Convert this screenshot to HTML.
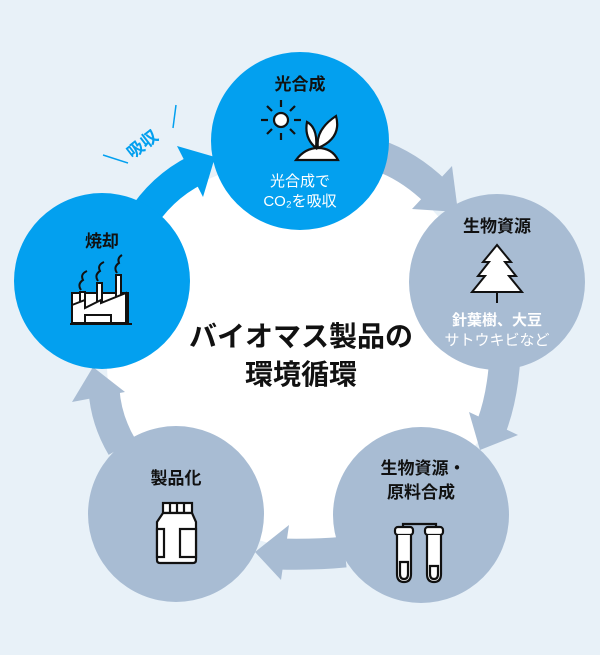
<!DOCTYPE html>
<html><head><meta charset="utf-8"><style>
html,body{margin:0;padding:0;background:#e8f1f8;}
svg{display:block;font-family:"Liberation Sans","Noto Sans CJK JP",sans-serif;}
</style></head><body>
<svg width="600" height="655" viewBox="0 0 600 655" xmlns="http://www.w3.org/2000/svg">
<rect width="600" height="655" fill="#e8f1f8"/>
<polygon points="300,141 410,185 497,282 495,420 421,515 300,553 176,514 110,420 102,281 170,195" fill="#fff"/>
<!-- arrows -->
<g fill="none" stroke="#a8bcd3" stroke-width="31">
<path d="M368,152 Q405,162 436,192"/>
<path d="M505,355 Q503,395 492,425"/>
<path d="M345,552 Q315,555 278,554"/>
<path d="M122,447 Q106,420 104,390"/>
</g>
<g fill="#a8bcd3">
<polygon points="452,166 412,209 458,212"/>
<polygon points="469,412 518,435 480,450"/>
<polygon points="289,525 281,580 255,552"/>
<polygon points="72,402 125,392 93,367"/>
</g>
<path d="M138,225 Q160,188 196,170" fill="none" stroke="#03a0ef" stroke-width="31"/>
<polygon points="177,146 203,197 215,157" fill="#03a0ef"/>
<!-- circles -->
<circle cx="300" cy="141" r="89" fill="#03a0ef"/>
<circle cx="102" cy="281" r="88" fill="#03a0ef"/>
<circle cx="497" cy="282" r="88" fill="#a8bcd3"/>
<circle cx="421" cy="515" r="88" fill="#a8bcd3"/>
<circle cx="176" cy="514" r="88" fill="#a8bcd3"/>
<!-- 吸収 -->
<g fill="#03a0ef" stroke="#03a0ef">
<line x1="103" y1="155" x2="128" y2="163" stroke-width="1.5"/>
<line x1="176" y1="105" x2="173" y2="128" stroke-width="1.5"/>
<text x="143" y="150" font-size="17" font-weight="bold" stroke="none" text-anchor="middle" transform="rotate(-38 143 145)">吸収</text>
</g>
<!-- labels -->
<g font-weight="bold" text-anchor="middle" fill="#111">
<text x="300" y="90" font-size="17">光合成</text>
<text x="102" y="247" font-size="17">焼却</text>
<text x="497" y="232" font-size="17">生物資源</text>
<text x="176" y="484" font-size="17">製品化</text>
<text x="423" y="474" font-size="17">生物資源・</text>
<text x="421" y="498" font-size="17">原料合成</text>
<text x="301" y="346" font-size="28">バイオマス製品の</text>
<text x="301" y="384" font-size="28">環境循環</text>
</g>
<g text-anchor="middle" fill="#fff" font-size="15">
<text x="300" y="186">光合成で</text>
<text x="300" y="206">CO₂を吸収</text>
<text x="497" y="325" font-weight="bold">針葉樹、大豆</text>
<text x="497" y="345">サトウキビなど</text>
</g>
<!-- sun -->
<g stroke="#111" stroke-width="2.2" fill="#fff">
<circle cx="281" cy="120" r="7"/>
<g fill="none">
<line x1="281" y1="100" x2="281" y2="107"/><line x1="281" y1="133" x2="281" y2="140"/>
<line x1="261" y1="120" x2="268" y2="120"/><line x1="294" y1="120" x2="301" y2="120"/>
<line x1="267" y1="106" x2="272" y2="111"/><line x1="290" y1="129" x2="295" y2="134"/>
<line x1="267" y1="134" x2="272" y2="129"/><line x1="290" y1="111" x2="295" y2="106"/>
</g>
<!-- plant -->
<path d="M296,160 Q305,148 318,148 Q332,148 338,160 Z"/>
<path d="M316,148 Q304,138 307,122 Q318,128 316,148 Z"/>
<path d="M318,148 Q315,130 336,116 Q342,138 318,148 Z"/>
</g>
<!-- factory -->
<g stroke="#111" stroke-width="2" fill="#fff">
<rect x="72" y="293" width="56" height="30"/>
<rect x="80" y="292" width="5" height="20"/>
<rect x="97" y="283" width="5" height="25"/>
<rect x="116" y="275" width="5" height="25"/>
<path d="M72,323 V305 L85,300 V308 L101,300 V303 L126,293 V323 Z"/>
<rect x="85" y="315" width="26" height="8"/>
<line x1="70" y1="324" x2="132" y2="324"/>
<path d="M81,290 q-4,-6 2,-10 q-3,-6 4,-9 M98,281 q-4,-6 2,-10 q-3,-6 4,-9 M117,273 q-4,-6 2,-10 q-2,-5 3,-8" fill="none"/>
</g>
<!-- tree -->
<g stroke="#111" stroke-width="2" fill="#fff">
<path d="M497,245 L483,262 L489,262 L478,276 L485,276 L472,292 L522,292 L509,276 L516,276 L505,262 L511,262 Z"/>
<line x1="497" y1="292" x2="497" y2="303"/>
</g>
<!-- bottle -->
<g stroke="#111" stroke-width="2.2" fill="#fff">
<rect x="163" y="503" width="29" height="10"/>
<path d="M163,513 L157,522 V560 Q157,563 160,563 H193 Q196,563 196,560 V522 L192,513 Z"/>
<rect x="157" y="529" width="7" height="28"/>
<rect x="180" y="529" width="16" height="28"/>
<line x1="170" y1="503" x2="170" y2="513"/><line x1="177" y1="503" x2="177" y2="513"/><line x1="184" y1="503" x2="184" y2="513"/>
</g>
<!-- test tubes -->
<g stroke="#111" stroke-width="2.2" fill="#fff">
<path d="M403,534 V524 H436 V534" fill="none"/>
<rect x="395" y="527" width="18" height="8" rx="3"/>
<rect x="425" y="527" width="18" height="8" rx="3"/>
<path d="M397,535 V574 Q397,582 404,582 Q411,582 411,574 V535"/>
<path d="M427,535 V574 Q427,582 434,582 Q441,582 441,574 V535"/>
<path d="M400,562 V574 Q400,579 404,579 Q408,579 408,574 V562 Z" fill="none"/>
<path d="M430,566 H438 V574 Q438,579 434,579 Q430,579 430,574 Z" fill="none"/>
</g>
</svg>
</body></html>
